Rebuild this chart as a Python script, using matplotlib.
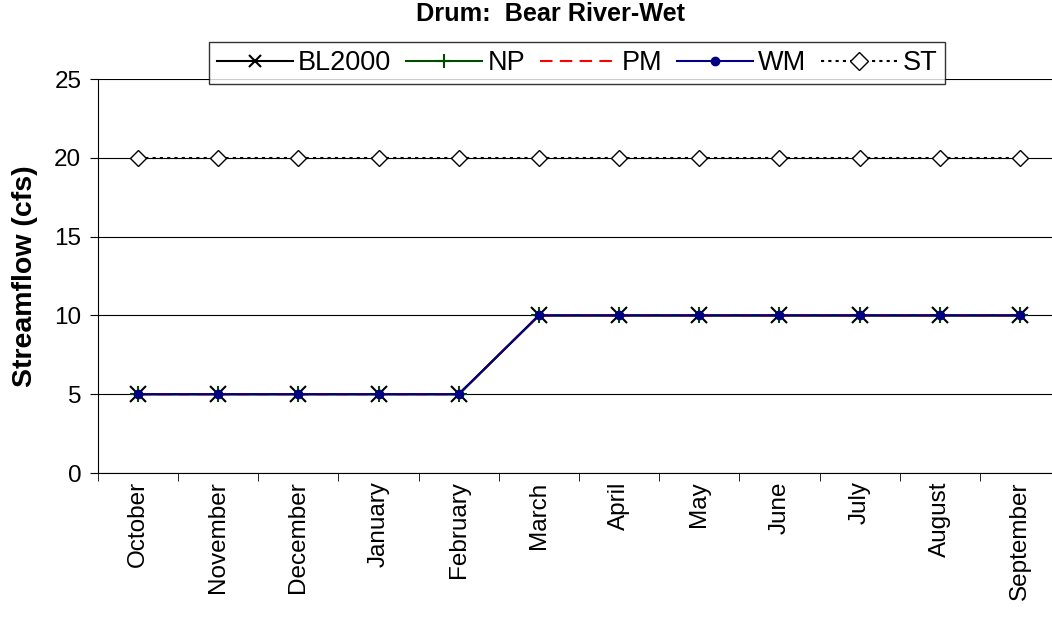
import matplotlib.pyplot as plt
import numpy as np

plt.rcParams['font.family'] = ['Liberation Sans', 'DejaVu Sans']

months = ['October', 'November', 'December', 'January', 'February', 'March',
          'April', 'May', 'June', 'July', 'August', 'September']
bl2000 = [5, 5, 5, 5, 5, 10, 10, 10, 10, 10, 10, 10]
np_flow = [5, 5, 5, 5, 5, 10, 10, 10, 10, 10, 10, 10]
pm = [5, 5, 5, 5, 5, 10, 10, 10, 10, 10, 10, 10]
wm = [5, 5, 5, 5, 5, 10, 10, 10, 10, 10, 10, 10]
st = [20, 20, 20, 20, 20, 20, 20, 20, 20, 20, 20, 20]

fig = plt.figure(figsize=(10.52, 6.32), dpi=100)
ax = fig.add_axes([98 / 1052, 1 - 473 / 632, (1060 - 98) / 1052, (473 - 79) / 632])

x = np.arange(len(months))
ax.plot(x, bl2000, color='black', marker='x', markersize=12, markeredgewidth=1.5, linewidth=1.5, label='BL2000')
ax.plot(x, np_flow, color='#004d00', marker='+', markersize=12, markeredgewidth=1.5, linewidth=1.5, label='NP')
ax.plot(x, pm, color='red', linestyle=(0, (6, 3.5)), linewidth=1.5, label='PM')
ax.plot(x, wm, color='#000080', marker='o', markersize=6, linewidth=1.5, label='WM')
ax.plot(x, st, color='black', linestyle=(0, (1.5, 2)), marker='D', markersize=8.5, markerfacecolor='white',
        markeredgewidth=1, linewidth=1.5, label='ST')

ax.set_xlim(-0.5, len(months) - 0.5)
ax.set_ylim(0, 25)
ax.set_yticks([0, 5, 10, 15, 20, 25])
ax.yaxis.grid(True, color='black', linewidth=0.8)
ax.set_axisbelow(True)
ax.set_xticks(x)
ax.set_xticklabels(months, rotation=90, fontsize=17.5)
ax.tick_params(axis='x', length=0, pad=6)
ax.set_xticks(np.arange(-0.5, len(months), 1), minor=True)
ax.tick_params(axis='x', which='minor', length=6, direction='out')
ax.tick_params(axis='y', labelsize=17.5, length=6, direction='out', pad=6)
for s in ['top', 'right']:
    ax.spines[s].set_visible(False)
ax.set_ylabel('Streamflow (cfs)', fontsize=20.5, fontweight='bold', labelpad=12)

fig.text(550 / 1052, 1 - 14 / 632, 'Drum:  Bear River-Wet', ha='center', va='center',
         fontsize=18.2, fontweight='bold')

leg = fig.legend(loc='center', bbox_to_anchor=(577 / 1052, 1 - 63 / 632), ncol=5, fontsize=19.5,
                 frameon=True, fancybox=False, edgecolor='black', handlelength=2.8,
                 handletextpad=0.2, columnspacing=0.55, borderpad=0.3, borderaxespad=0)
leg.get_frame().set_linewidth(1.0)
for h, ms in zip(leg.legend_handles, [9, 10, 0, 6, 9]):
    if ms:
        h.set_markersize(ms)

fig.savefig('out.png', dpi=100)
